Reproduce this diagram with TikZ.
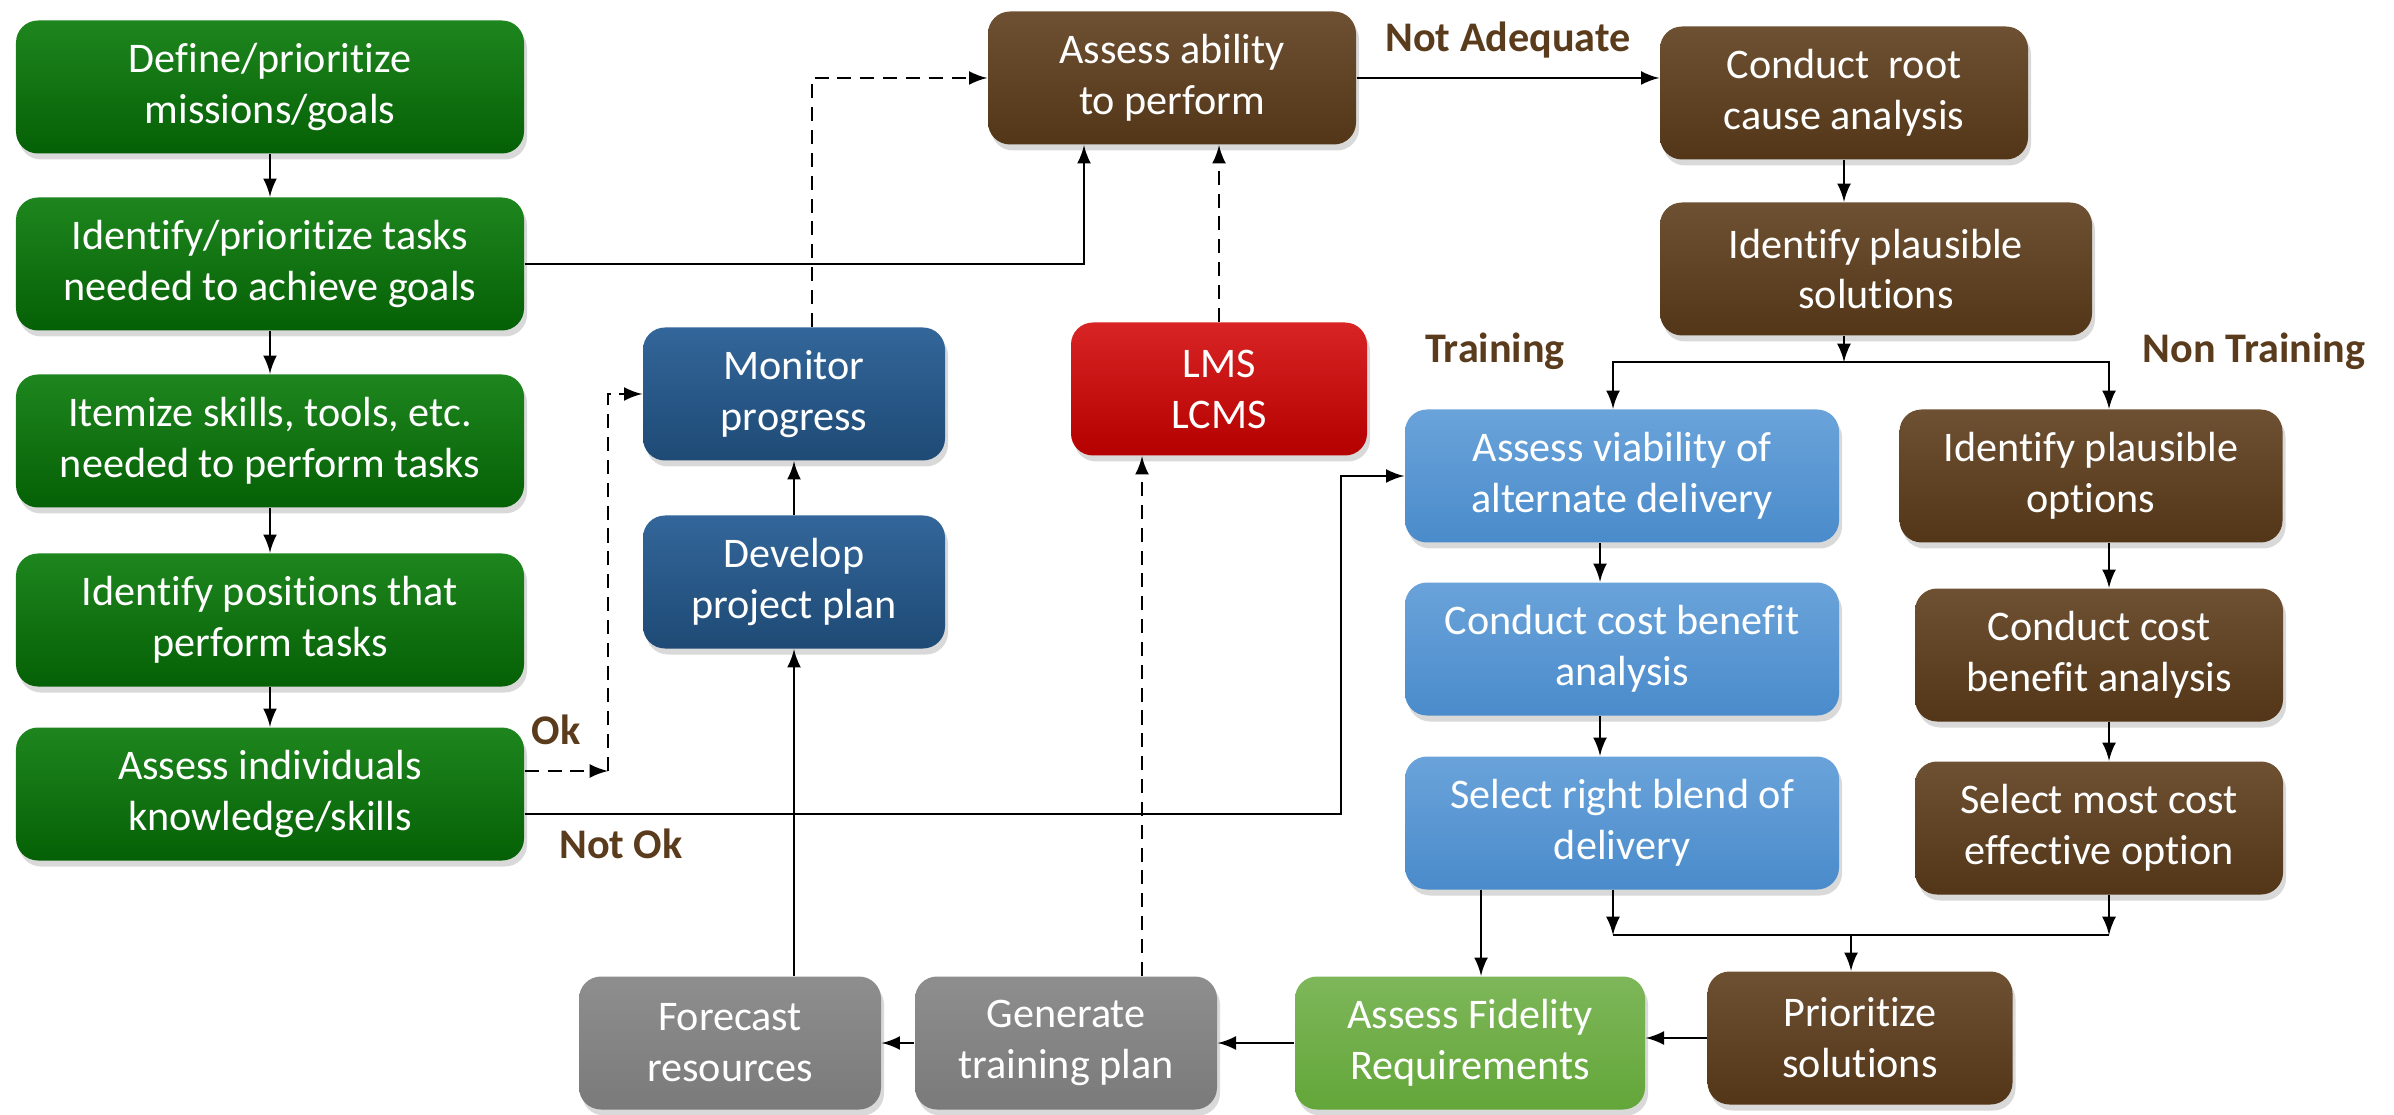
\documentclass[tikz,border=0pt]{standalone}
\usepackage{fontspec}
\setmainfont{Carlito}[Ligatures=NoCommon]
\usepackage{tikz}
\usetikzlibrary{positioning}
\usetikzlibrary{shadows}
\usetikzlibrary{arrows}

\definecolor{grnTop}{HTML}{1E861E}
\definecolor{grnBot}{HTML}{056005}
\definecolor{navTop}{HTML}{33669A}
\definecolor{navBot}{HTML}{1E4A75}
\definecolor{brnTop}{HTML}{6E5033}
\definecolor{brnBot}{HTML}{533617}
\definecolor{redTop}{HTML}{D82424}
\definecolor{redBot}{HTML}{B50000}
\definecolor{skyTop}{HTML}{6AA3DA}
\definecolor{skyBot}{HTML}{4A8BCB}
\definecolor{lgrTop}{HTML}{7EB75A}
\definecolor{lgrBot}{HTML}{63A639}
\definecolor{gryTop}{HTML}{8E8E8E}
\definecolor{gryBot}{HTML}{7A7A7A}
\definecolor{lblbrown}{HTML}{5A3B1C}

\tikzset{
  box/.style={rounded corners=0.22cm, minimum height=1.33cm, align=center, text=white,
    font=\fontsize{12}{14.5}\selectfont, inner sep=2pt,
    drop shadow={opacity=0.3, shadow xshift=0.03cm, shadow yshift=-0.06cm}},
  grnbox/.style={box, top color=grnTop, bottom color=grnBot, minimum width=5.08cm},
  navbox/.style={box, top color=navTop, bottom color=navBot, minimum width=3.02cm},
  brnbox/.style={box, top color=brnTop, bottom color=brnBot},
  redbox/.style={box, top color=redTop, bottom color=redBot, minimum width=2.96cm},
  skybox/.style={box, top color=skyTop, bottom color=skyBot, minimum width=4.34cm},
  lgrbox/.style={box, top color=lgrTop, bottom color=lgrBot, minimum width=3.50cm},
  grybox/.style={box, top color=gryTop, bottom color=gryBot, minimum width=3.02cm},
  lbl/.style={font=\bfseries\fontsize{12}{14}\selectfont, text=lblbrown},
  dsh/.style={dash pattern=on 4pt off 2.5pt}
}

\begin{document}
\begin{tikzpicture}[>=latex]
				\useasboundingbox (0,0) rectangle (23.94,-11.15);

				\node[grnbox] (g1) at (2.70,-0.87) {Define/prioritize\\missions/goals};
				\node[grnbox] (g2) at (2.70,-2.64) {Identify/prioritize tasks\\needed to achieve goals};
				\node[grnbox] (g3) at (2.70,-4.41) {Itemize skills, tools, etc.\\needed to perform tasks};
				\node[grnbox] (g4) at (2.70,-6.20) {Identify positions that\\perform tasks};
				\node[grnbox] (g5) at (2.70,-7.94) {Assess individuals\\knowledge/skills};
				\node[navbox] (mon) at (7.94,-3.94) {Monitor\\progress};
				\node[navbox] (dev) at (7.94,-5.82) {Develop\\project plan};
				\node[brnbox, minimum width=3.68cm] (abl) at (11.72,-0.78) {Assess ability\\to perform};
				\node[redbox] (lms) at (12.19,-3.89) {LMS\\LCMS};
				\node[brnbox, minimum width=3.68cm] (root) at (18.44,-0.93) {Conduct~ root\\cause analysis};
				\node[brnbox, minimum width=4.32cm] (sol) at (18.76,-2.69) {Identify plausible\\solutions};
				\node[skybox] (via) at (16.22,-4.76) {Assess viability of\\alternate delivery};
				\node[skybox] (cbt) at (16.22,-6.49) {Conduct cost benefit\\analysis};
				\node[skybox] (bld) at (16.22,-8.23) {Select right blend of\\delivery};
				\node[brnbox, minimum width=3.83cm] (opt) at (20.91,-4.76) {Identify plausible\\options};
				\node[brnbox, minimum width=3.68cm] (cbn) at (20.99,-6.55) {Conduct cost\\benefit analysis};
				\node[brnbox, minimum width=3.68cm] (eff) at (20.99,-8.28) {Select most cost\\effective option};
				\node[brnbox, minimum width=3.05cm] (pri) at (18.60,-10.38) {Prioritize\\solutions};
				\node[lgrbox] (fid) at (14.70,-10.43) {Assess Fidelity\\Requirements};
				\node[grybox] (gen) at (10.66,-10.43) {Generate\\training plan};
				\node[grybox] (fore) at (7.30,-10.43) {Forecast\\resources};

				\node[lbl] (lok) at (5.56,-7.30) {Ok};
				\node[lbl] (lnok) at (6.21,-8.44) {Not Ok};
				\node[lbl] (ltr) at (14.95,-3.51) {Training};
				\node[lbl] (lntr) at (22.54,-3.51) {Non Training};

				\coordinate (okpt) at (6.08,-7.71);
				\coordinate (nokbend) at (13.41,-8.14);
				\coordinate (splt) at (18.44,-3.62);
				\coordinate (mrg) at (18.51,-9.35);

				\draw[thick, ->] (g1) -- (g2);
				\draw[thick, ->] (g2) -- (g3);
				\draw[thick, ->] (g3) -- (g4);
				\draw[thick, ->] (g4) -- (g5);
				\draw[thick, ->] (g2.east) -| ([xshift=-0.88cm]abl.south);
				\draw[thick, dsh, ->] ([yshift=0.23cm]g5.east) -- (okpt);
				\draw[thick, dsh, ->] (okpt) |- (mon.west);
				\draw[thick, ->] ([yshift=-0.20cm]g5.east) -- (nokbend) |- (via.west);
				\draw[thick, dsh, ->] ([xshift=0.18cm]mon.north) |- (abl.west);
				\draw[thick, ->] (dev) -- (mon);
				\draw[thick, ->] (dev.south |- fore.north) -- (dev.south);
				\draw[thick, dsh, ->] (lms.north) -- (lms.north |- abl.south);
				\draw[thick, dsh, ->] ([xshift=0.76cm]gen.north) -- ([xshift=0.76cm]gen.north |- lms.south);
				\draw[thick, ->] (abl.east) -- (abl.east -| root.west) node[midway, above=2pt, lbl] (lnad) {Not Adequate};
				\draw[thick, ->] (root.south) -- (root.south |- sol.north);
				\draw[thick, ->] (root.south |- sol.south) -- (splt);
				\draw[thick, ->] (splt) -| ([xshift=-0.09cm]via.north);
				\draw[thick, ->] (splt) -| ([xshift=0.18cm]opt.north);
				\draw[thick, ->] ([xshift=-0.22cm]via.south) -- ([xshift=-0.22cm]cbt.north);
				\draw[thick, ->] ([xshift=-0.22cm]cbt.south) -- ([xshift=-0.22cm]bld.north);
				\draw[thick, ->] ([xshift=0.18cm]opt.south) -- ([xshift=0.18cm]opt.south |- cbn.north);
				\draw[thick, ->] ([xshift=0.10cm]cbn.south) -- ([xshift=0.10cm]eff.north);
				\draw[thick, ->] ([xshift=-0.09cm]bld.south) -- ([xshift=-0.09cm]bld.south |- mrg);
				\draw[thick, ->] ([xshift=0.10cm]eff.south) -- ([xshift=0.10cm]eff.south |- mrg);
				\draw[thick] ([xshift=-0.09cm]bld.south |- mrg) -- ([xshift=0.10cm]eff.south |- mrg);
				\draw[thick, ->] (mrg) -- (mrg |- pri.north);
				\draw[thick, ->] ([xshift=0.11cm]fid.north |- bld.south) -- ([xshift=0.11cm]fid.north);
				\draw[thick, ->] (pri.west) -- (pri.west -| fid.east);
				\draw[thick, ->] (fid) -- (gen);
				\draw[thick, ->] (gen) -- (fore);
			\end{tikzpicture}
\end{document}
